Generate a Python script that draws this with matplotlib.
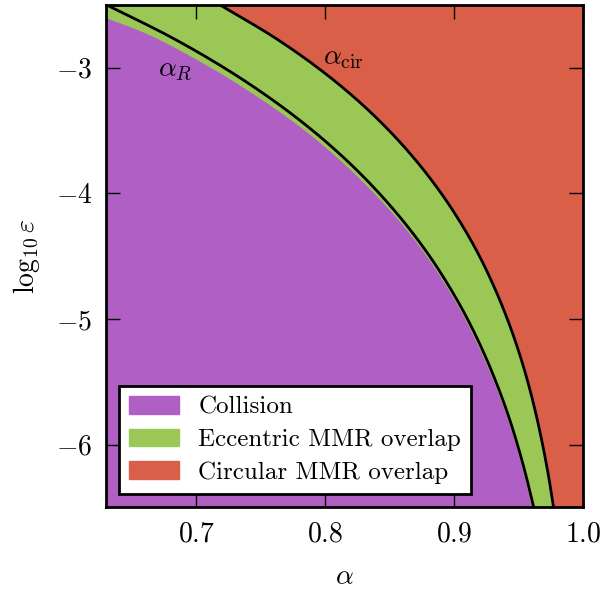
import matplotlib
matplotlib.use('Agg')
import matplotlib.pyplot as plt
from matplotlib.patches import Patch
import numpy as np

plt.rcParams['font.family'] = 'cmr10'
plt.rcParams['mathtext.fontset'] = 'cm'
plt.rcParams['axes.formatter.use_mathtext'] = True

# values
log_eps = [-2.5, -2.75, -3.0, -3.25, -3.5, -3.75, -4.0, -4.25, -4.5,
           -4.75, -5.0, -5.25, -5.5, -5.75, -6.0, -6.25, -6.5]
alpha_R = [0.6300, 0.6788, 0.7212, 0.7580, 0.7900, 0.8177, 0.8417, 0.8626, 0.8808,
           0.8965, 0.9102, 0.9220, 0.9323, 0.9413, 0.9490, 0.9557, 0.9616]
alpha_cir = [0.7180, 0.7589, 0.7939, 0.8238, 0.8493, 0.8711, 0.8898, 0.9058, 0.9195,
             0.9311, 0.9411, 0.9497, 0.9570, 0.9632, 0.9685, 0.9731, 0.9770]
coll_eps = [-2.604, -2.75, -3.0, -3.25, -3.5, -3.75, -4.0, -4.25, -4.5,
            -4.75, -5.0, -5.25, -5.5, -5.75, -6.0, -6.25, -6.5]
coll_alpha = [0.6300, 0.6658, 0.7112, 0.7500, 0.7840, 0.8127, 0.8377, 0.8596, 0.8783,
              0.8943, 0.9082, 0.9200, 0.9305, 0.9397, 0.9475, 0.9542, 0.9601]

c_purple = '#B060C5'
c_green = '#9BC757'
c_red = '#D95F48'


def smooth(xs, ys, n=12):
    # catmull-rom through the read points, only to draw a smooth curve
    p = np.column_stack([xs, ys])
    p = np.vstack([2*p[0] - p[1], p, 2*p[-1] - p[-2]])
    t = np.linspace(0, 1, n, endpoint=False)[:, None]
    out = []
    for i in range(1, len(p) - 2):
        p0, p1, p2, p3 = p[i-1], p[i], p[i+1], p[i+2]
        out.append(0.5*((2*p1) + (-p0 + p2)*t + (2*p0 - 5*p1 + 4*p2 - p3)*t**2
                        + (-p0 + 3*p1 - 3*p2 + p3)*t**3))
    out.append(p[-2][None, :])
    out = np.vstack(out)
    return out[:, 0], out[:, 1]


fig = plt.figure(figsize=(6.0, 5.92), dpi=100)
ax = fig.add_axes([0.177, 0.143, 0.795, 0.849])

rx, ry = smooth(alpha_R, log_eps)
cx, cy = smooth(alpha_cir, log_eps)
px, py = smooth(coll_alpha, coll_eps)

ax.fill_betweenx(cy, cx, 1.0, color=c_red, lw=0)
ax.fill_betweenx(cy, 0.60, cx, color=c_green, lw=0)
ax.fill_betweenx(py, 0.60, px, color=c_purple, lw=0)
ax.plot(rx, ry, color='k', lw=2)
ax.plot(cx, cy, color='k', lw=2)

ax.text(0.670, -3.02, r'$\alpha_R$', fontsize=20, ha='left', va='center')
ax.text(0.798, -2.92, r'$\alpha_{\rm cir}$', fontsize=20, ha='left', va='center')

ax.set_xlim(0.63, 1.0)
ax.set_ylim(-6.5, -2.5)
ax.set_xticks([0.7, 0.8, 0.9, 1.0])
ax.set_yticks([-6, -5, -4, -3])
ax.set_xlabel(r'$\alpha$', fontsize=20, labelpad=12)
ax.set_ylabel(r'$\log_{10}\varepsilon$', fontsize=20, labelpad=10)
ax.tick_params(direction='in', length=10, width=1, labelsize=20, top=True, right=True, pad=10)
for s in ax.spines.values():
    s.set_linewidth(2)

handles = [Patch(color=c_purple, label='Collision'),
           Patch(color=c_green, label='Eccentric MMR overlap'),
           Patch(color=c_red, label='Circular MMR overlap')]
leg = ax.legend(handles=handles, loc='lower left', bbox_to_anchor=(0.012, 0.012),
                fontsize=18, fancybox=False, framealpha=1, edgecolor='k',
                handlelength=2.0, handleheight=0.7, handletextpad=0.75,
                labelspacing=0.4, borderaxespad=0.3)
leg.get_frame().set_linewidth(2)

fig.savefig('out.png', dpi=100)
